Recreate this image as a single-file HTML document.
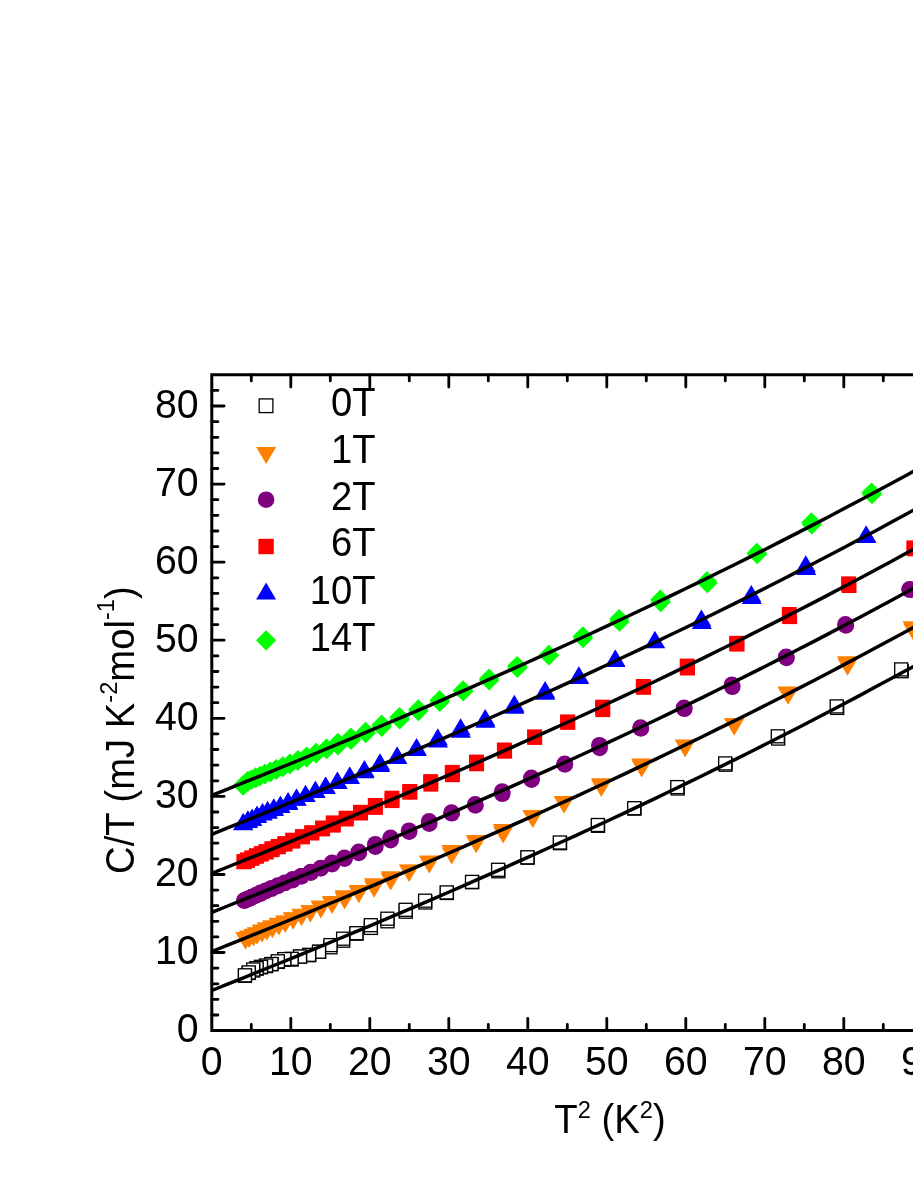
<!DOCTYPE html>
<html><head><meta charset="utf-8"><title>C/T vs T^2</title>
<style>html,body{margin:0;padding:0;background:#fff}svg{display:block;will-change:transform}text{font-family:"Liberation Sans",sans-serif;fill:#000}</style></head><body>
<svg width="913" height="1182" viewBox="0 0 913 1182">
<rect width="913" height="1182" fill="#fff"/>
<g id="s0T">
<rect x="895.2" y="664.7" width="13.0" height="13.0" fill="#fff" stroke="#000" stroke-width="1.3"/>
<rect x="894.7" y="662.9" width="13.0" height="13.0" fill="#fff" stroke="#000" stroke-width="1.3"/>
<rect x="830.7" y="701.4" width="13.0" height="13.0" fill="#fff" stroke="#000" stroke-width="1.3"/>
<rect x="830.2" y="699.9" width="13.0" height="13.0" fill="#fff" stroke="#000" stroke-width="1.3"/>
<rect x="771.7" y="732.1" width="13.0" height="13.0" fill="#fff" stroke="#000" stroke-width="1.3"/>
<rect x="771.3" y="729.8" width="13.0" height="13.0" fill="#fff" stroke="#000" stroke-width="1.3"/>
<rect x="719.1" y="758.2" width="13.0" height="13.0" fill="#fff" stroke="#000" stroke-width="1.3"/>
<rect x="718.7" y="756.9" width="13.0" height="13.0" fill="#fff" stroke="#000" stroke-width="1.3"/>
<rect x="671.2" y="782.0" width="13.0" height="13.0" fill="#fff" stroke="#000" stroke-width="1.3"/>
<rect x="670.8" y="780.6" width="13.0" height="13.0" fill="#fff" stroke="#000" stroke-width="1.3"/>
<rect x="628.0" y="802.1" width="13.0" height="13.0" fill="#fff" stroke="#000" stroke-width="1.3"/>
<rect x="627.7" y="801.7" width="13.0" height="13.0" fill="#fff" stroke="#000" stroke-width="1.3"/>
<rect x="591.6" y="819.3" width="13.0" height="13.0" fill="#fff" stroke="#000" stroke-width="1.3"/>
<rect x="591.3" y="818.5" width="13.0" height="13.0" fill="#fff" stroke="#000" stroke-width="1.3"/>
<rect x="553.6" y="836.7" width="13.0" height="13.0" fill="#fff" stroke="#000" stroke-width="1.3"/>
<rect x="553.3" y="836.0" width="13.0" height="13.0" fill="#fff" stroke="#000" stroke-width="1.3"/>
<rect x="521.2" y="851.2" width="13.0" height="13.0" fill="#fff" stroke="#000" stroke-width="1.3"/>
<rect x="520.9" y="850.8" width="13.0" height="13.0" fill="#fff" stroke="#000" stroke-width="1.3"/>
<rect x="491.9" y="864.8" width="13.0" height="13.0" fill="#fff" stroke="#000" stroke-width="1.3"/>
<rect x="491.6" y="863.3" width="13.0" height="13.0" fill="#fff" stroke="#000" stroke-width="1.3"/>
<rect x="465.7" y="875.7" width="13.0" height="13.0" fill="#fff" stroke="#000" stroke-width="1.3"/>
<rect x="465.5" y="875.4" width="13.0" height="13.0" fill="#fff" stroke="#000" stroke-width="1.3"/>
<rect x="440.4" y="886.5" width="13.0" height="13.0" fill="#fff" stroke="#000" stroke-width="1.3"/>
<rect x="440.2" y="885.9" width="13.0" height="13.0" fill="#fff" stroke="#000" stroke-width="1.3"/>
<rect x="418.8" y="896.0" width="13.0" height="13.0" fill="#fff" stroke="#000" stroke-width="1.3"/>
<rect x="418.6" y="894.2" width="13.0" height="13.0" fill="#fff" stroke="#000" stroke-width="1.3"/>
<rect x="399.3" y="905.2" width="13.0" height="13.0" fill="#fff" stroke="#000" stroke-width="1.3"/>
<rect x="399.1" y="903.3" width="13.0" height="13.0" fill="#fff" stroke="#000" stroke-width="1.3"/>
<rect x="381.0" y="914.8" width="13.0" height="13.0" fill="#fff" stroke="#000" stroke-width="1.3"/>
<rect x="380.9" y="912.2" width="13.0" height="13.0" fill="#fff" stroke="#000" stroke-width="1.3"/>
<rect x="364.4" y="921.4" width="13.0" height="13.0" fill="#fff" stroke="#000" stroke-width="1.3"/>
<rect x="364.3" y="918.7" width="13.0" height="13.0" fill="#fff" stroke="#000" stroke-width="1.3"/>
<rect x="350.0" y="927.2" width="13.0" height="13.0" fill="#fff" stroke="#000" stroke-width="1.3"/>
<rect x="349.9" y="926.7" width="13.0" height="13.0" fill="#fff" stroke="#000" stroke-width="1.3"/>
<rect x="336.7" y="934.2" width="13.0" height="13.0" fill="#fff" stroke="#000" stroke-width="1.3"/>
<rect x="336.6" y="932.2" width="13.0" height="13.0" fill="#fff" stroke="#000" stroke-width="1.3"/>
<rect x="324.0" y="940.8" width="13.0" height="13.0" fill="#fff" stroke="#000" stroke-width="1.3"/>
<rect x="324.0" y="938.6" width="13.0" height="13.0" fill="#fff" stroke="#000" stroke-width="1.3"/>
<rect x="312.6" y="945.3" width="13.0" height="13.0" fill="#fff" stroke="#000" stroke-width="1.3"/>
<rect x="312.5" y="945.2" width="13.0" height="13.0" fill="#fff" stroke="#000" stroke-width="1.3"/>
<rect x="302.7" y="948.7" width="13.0" height="13.0" fill="#fff" stroke="#000" stroke-width="1.3"/>
<rect x="302.6" y="948.3" width="13.0" height="13.0" fill="#fff" stroke="#000" stroke-width="1.3"/>
<rect x="293.6" y="950.1" width="13.0" height="13.0" fill="#fff" stroke="#000" stroke-width="1.3"/>
<rect x="293.5" y="950.0" width="13.0" height="13.0" fill="#fff" stroke="#000" stroke-width="1.3"/>
<rect x="285.2" y="953.1" width="13.0" height="13.0" fill="#fff" stroke="#000" stroke-width="1.3"/>
<rect x="285.1" y="952.3" width="13.0" height="13.0" fill="#fff" stroke="#000" stroke-width="1.3"/>
<rect x="277.8" y="953.2" width="13.0" height="13.0" fill="#fff" stroke="#000" stroke-width="1.3"/>
<rect x="277.8" y="952.6" width="13.0" height="13.0" fill="#fff" stroke="#000" stroke-width="1.3"/>
<rect x="271.4" y="955.4" width="13.0" height="13.0" fill="#fff" stroke="#000" stroke-width="1.3"/>
<rect x="271.3" y="954.8" width="13.0" height="13.0" fill="#fff" stroke="#000" stroke-width="1.3"/>
<rect x="265.0" y="957.7" width="13.0" height="13.0" fill="#fff" stroke="#000" stroke-width="1.3"/>
<rect x="264.9" y="957.5" width="13.0" height="13.0" fill="#fff" stroke="#000" stroke-width="1.3"/>
<rect x="259.5" y="959.6" width="13.0" height="13.0" fill="#fff" stroke="#000" stroke-width="1.3"/>
<rect x="259.5" y="959.0" width="13.0" height="13.0" fill="#fff" stroke="#000" stroke-width="1.3"/>
<rect x="254.5" y="960.8" width="13.0" height="13.0" fill="#fff" stroke="#000" stroke-width="1.3"/>
<rect x="254.5" y="960.3" width="13.0" height="13.0" fill="#fff" stroke="#000" stroke-width="1.3"/>
<rect x="250.1" y="962.2" width="13.0" height="13.0" fill="#fff" stroke="#000" stroke-width="1.3"/>
<rect x="250.1" y="961.7" width="13.0" height="13.0" fill="#fff" stroke="#000" stroke-width="1.3"/>
<rect x="246.7" y="964.0" width="13.0" height="13.0" fill="#fff" stroke="#000" stroke-width="1.3"/>
<rect x="246.7" y="963.0" width="13.0" height="13.0" fill="#fff" stroke="#000" stroke-width="1.3"/>
<rect x="242.3" y="966.5" width="13.0" height="13.0" fill="#fff" stroke="#000" stroke-width="1.3"/>
<rect x="242.2" y="965.9" width="13.0" height="13.0" fill="#fff" stroke="#000" stroke-width="1.3"/>
<rect x="238.5" y="969.3" width="13.0" height="13.0" fill="#fff" stroke="#000" stroke-width="1.3"/>
<rect x="238.4" y="968.8" width="13.0" height="13.0" fill="#fff" stroke="#000" stroke-width="1.3"/>
</g>
<g id="s1T">
<path d="M235.5 932.0L255.5 932.0L245.5 949.0Z" fill="#FF8000"/>
<path d="M235.5 932.6L255.5 932.6L245.5 949.6Z" fill="#FF8000"/>
<path d="M239.2 930.4L259.2 930.4L249.2 947.4Z" fill="#FF8000"/>
<path d="M239.2 931.1L259.2 931.1L249.2 948.1Z" fill="#FF8000"/>
<path d="M243.6 928.7L263.6 928.7L253.6 945.7Z" fill="#FF8000"/>
<path d="M243.6 929.2L263.6 929.2L253.6 946.2Z" fill="#FF8000"/>
<path d="M247.0 927.3L267.0 927.3L257.0 944.3Z" fill="#FF8000"/>
<path d="M247.1 927.6L267.1 927.6L257.1 944.6Z" fill="#FF8000"/>
<path d="M252.0 924.6L272.0 924.6L262.0 941.6Z" fill="#FF8000"/>
<path d="M252.1 925.7L272.1 925.7L262.1 942.7Z" fill="#FF8000"/>
<path d="M256.9 922.3L276.9 922.3L266.9 939.3Z" fill="#FF8000"/>
<path d="M257.0 923.4L277.0 923.4L267.0 940.4Z" fill="#FF8000"/>
<path d="M262.3 920.3L282.3 920.3L272.3 937.3Z" fill="#FF8000"/>
<path d="M262.4 921.2L282.4 921.2L272.4 938.2Z" fill="#FF8000"/>
<path d="M268.7 917.8L288.7 917.8L278.7 934.8Z" fill="#FF8000"/>
<path d="M268.8 918.6L288.8 918.6L278.8 935.6Z" fill="#FF8000"/>
<path d="M275.2 915.4L295.2 915.4L285.2 932.4Z" fill="#FF8000"/>
<path d="M275.3 915.7L295.3 915.7L285.3 932.7Z" fill="#FF8000"/>
<path d="M283.0 912.3L303.0 912.3L293.0 929.3Z" fill="#FF8000"/>
<path d="M283.1 912.5L303.1 912.5L293.1 929.5Z" fill="#FF8000"/>
<path d="M291.4 908.8L311.4 908.8L301.4 925.8Z" fill="#FF8000"/>
<path d="M291.5 909.1L311.5 909.1L301.5 926.1Z" fill="#FF8000"/>
<path d="M300.3 905.3L320.3 905.3L310.3 922.3Z" fill="#FF8000"/>
<path d="M300.4 905.3L320.4 905.3L310.4 922.3Z" fill="#FF8000"/>
<path d="M310.8 900.6L330.8 900.6L320.8 917.6Z" fill="#FF8000"/>
<path d="M310.9 901.5L330.9 901.5L320.9 918.5Z" fill="#FF8000"/>
<path d="M322.0 895.9L342.0 895.9L332.0 912.9Z" fill="#FF8000"/>
<path d="M322.1 897.1L342.1 897.1L332.1 914.1Z" fill="#FF8000"/>
<path d="M334.5 890.3L354.5 890.3L344.5 907.3Z" fill="#FF8000"/>
<path d="M334.6 892.6L354.6 892.6L344.6 909.6Z" fill="#FF8000"/>
<path d="M348.7 885.1L368.7 885.1L358.7 902.1Z" fill="#FF8000"/>
<path d="M348.8 886.3L368.8 886.3L358.8 903.3Z" fill="#FF8000"/>
<path d="M364.0 878.2L384.0 878.2L374.0 895.2Z" fill="#FF8000"/>
<path d="M364.1 880.7L384.1 880.7L374.1 897.7Z" fill="#FF8000"/>
<path d="M380.6 871.3L400.6 871.3L390.6 888.3Z" fill="#FF8000"/>
<path d="M380.7 873.6L400.7 873.6L390.7 890.6Z" fill="#FF8000"/>
<path d="M399.0 864.4L419.0 864.4L409.0 881.4Z" fill="#FF8000"/>
<path d="M399.2 864.8L419.2 864.8L409.2 881.8Z" fill="#FF8000"/>
<path d="M419.1 855.6L439.1 855.6L429.1 872.6Z" fill="#FF8000"/>
<path d="M419.3 856.4L439.3 856.4L429.3 873.4Z" fill="#FF8000"/>
<path d="M441.5 845.1L461.5 845.1L451.5 862.1Z" fill="#FF8000"/>
<path d="M441.7 847.5L461.7 847.5L451.7 864.5Z" fill="#FF8000"/>
<path d="M466.0 834.9L486.0 834.9L476.0 851.9Z" fill="#FF8000"/>
<path d="M466.2 836.3L486.2 836.3L476.2 853.3Z" fill="#FF8000"/>
<path d="M492.9 824.0L512.9 824.0L502.9 841.0Z" fill="#FF8000"/>
<path d="M493.1 826.6L513.1 826.6L503.1 843.6Z" fill="#FF8000"/>
<path d="M522.6 809.9L542.6 809.9L532.6 826.9Z" fill="#FF8000"/>
<path d="M522.8 811.1L542.8 811.1L532.8 828.1Z" fill="#FF8000"/>
<path d="M553.8 796.1L573.8 796.1L563.8 813.1Z" fill="#FF8000"/>
<path d="M554.1 796.6L574.1 796.6L564.1 813.6Z" fill="#FF8000"/>
<path d="M591.0 778.3L611.0 778.3L601.0 795.3Z" fill="#FF8000"/>
<path d="M591.3 780.1L611.3 780.1L601.3 797.1Z" fill="#FF8000"/>
<path d="M631.3 758.5L651.3 758.5L641.3 775.5Z" fill="#FF8000"/>
<path d="M631.7 760.6L651.7 760.6L641.7 777.6Z" fill="#FF8000"/>
<path d="M674.8 739.4L694.8 739.4L684.8 756.4Z" fill="#FF8000"/>
<path d="M675.2 740.3L695.2 740.3L685.2 757.3Z" fill="#FF8000"/>
<path d="M723.9 718.0L743.9 718.0L733.9 735.0Z" fill="#FF8000"/>
<path d="M724.3 718.5L744.3 718.5L734.3 735.5Z" fill="#FF8000"/>
<path d="M777.6 686.6L797.6 686.6L787.6 703.6Z" fill="#FF8000"/>
<path d="M778.1 687.7L798.1 687.7L788.1 704.7Z" fill="#FF8000"/>
<path d="M837.0 656.2L857.0 656.2L847.0 673.2Z" fill="#FF8000"/>
<path d="M837.5 658.8L857.5 658.8L847.5 675.8Z" fill="#FF8000"/>
<path d="M902.6 621.3L922.6 621.3L912.6 638.3Z" fill="#FF8000"/>
<path d="M903.2 623.4L923.2 623.4L913.2 640.4Z" fill="#FF8000"/>
</g>
<g id="s2T">
<circle cx="244.3" cy="900.5" r="8.3" fill="#800080"/>
<circle cx="244.4" cy="900.6" r="8.3" fill="#800080"/>
<circle cx="247.8" cy="898.9" r="8.3" fill="#800080"/>
<circle cx="247.8" cy="899.1" r="8.3" fill="#800080"/>
<circle cx="251.7" cy="897.1" r="8.3" fill="#800080"/>
<circle cx="251.7" cy="897.3" r="8.3" fill="#800080"/>
<circle cx="255.9" cy="895.2" r="8.3" fill="#800080"/>
<circle cx="255.9" cy="895.3" r="8.3" fill="#800080"/>
<circle cx="260.5" cy="892.7" r="8.3" fill="#800080"/>
<circle cx="260.6" cy="893.6" r="8.3" fill="#800080"/>
<circle cx="265.7" cy="890.8" r="8.3" fill="#800080"/>
<circle cx="265.8" cy="891.0" r="8.3" fill="#800080"/>
<circle cx="271.4" cy="888.2" r="8.3" fill="#800080"/>
<circle cx="271.5" cy="888.8" r="8.3" fill="#800080"/>
<circle cx="277.8" cy="885.5" r="8.3" fill="#800080"/>
<circle cx="277.9" cy="886.0" r="8.3" fill="#800080"/>
<circle cx="284.8" cy="882.8" r="8.3" fill="#800080"/>
<circle cx="284.9" cy="883.0" r="8.3" fill="#800080"/>
<circle cx="292.6" cy="879.4" r="8.3" fill="#800080"/>
<circle cx="292.6" cy="880.2" r="8.3" fill="#800080"/>
<circle cx="301.2" cy="876.2" r="8.3" fill="#800080"/>
<circle cx="301.3" cy="876.3" r="8.3" fill="#800080"/>
<circle cx="310.7" cy="872.0" r="8.3" fill="#800080"/>
<circle cx="310.8" cy="872.7" r="8.3" fill="#800080"/>
<circle cx="320.8" cy="868.1" r="8.3" fill="#800080"/>
<circle cx="320.9" cy="868.2" r="8.3" fill="#800080"/>
<circle cx="332.0" cy="862.9" r="8.3" fill="#800080"/>
<circle cx="332.1" cy="864.2" r="8.3" fill="#800080"/>
<circle cx="344.5" cy="857.9" r="8.3" fill="#800080"/>
<circle cx="344.6" cy="858.7" r="8.3" fill="#800080"/>
<circle cx="358.7" cy="851.9" r="8.3" fill="#800080"/>
<circle cx="358.8" cy="852.9" r="8.3" fill="#800080"/>
<circle cx="375.3" cy="844.2" r="8.3" fill="#800080"/>
<circle cx="375.4" cy="846.7" r="8.3" fill="#800080"/>
<circle cx="390.6" cy="837.9" r="8.3" fill="#800080"/>
<circle cx="390.7" cy="840.1" r="8.3" fill="#800080"/>
<circle cx="409.0" cy="830.7" r="8.3" fill="#800080"/>
<circle cx="409.2" cy="831.7" r="8.3" fill="#800080"/>
<circle cx="429.1" cy="821.4" r="8.3" fill="#800080"/>
<circle cx="429.3" cy="823.7" r="8.3" fill="#800080"/>
<circle cx="451.5" cy="812.5" r="8.3" fill="#800080"/>
<circle cx="451.7" cy="813.3" r="8.3" fill="#800080"/>
<circle cx="475.2" cy="804.3" r="8.3" fill="#800080"/>
<circle cx="475.4" cy="805.5" r="8.3" fill="#800080"/>
<circle cx="502.1" cy="791.5" r="8.3" fill="#800080"/>
<circle cx="502.3" cy="793.8" r="8.3" fill="#800080"/>
<circle cx="531.4" cy="777.9" r="8.3" fill="#800080"/>
<circle cx="531.6" cy="779.7" r="8.3" fill="#800080"/>
<circle cx="564.6" cy="763.8" r="8.3" fill="#800080"/>
<circle cx="564.9" cy="764.4" r="8.3" fill="#800080"/>
<circle cx="599.4" cy="745.2" r="8.3" fill="#800080"/>
<circle cx="599.7" cy="747.9" r="8.3" fill="#800080"/>
<circle cx="640.5" cy="727.6" r="8.3" fill="#800080"/>
<circle cx="640.9" cy="728.4" r="8.3" fill="#800080"/>
<circle cx="684.0" cy="707.9" r="8.3" fill="#800080"/>
<circle cx="684.4" cy="708.8" r="8.3" fill="#800080"/>
<circle cx="731.9" cy="684.7" r="8.3" fill="#800080"/>
<circle cx="732.3" cy="686.8" r="8.3" fill="#800080"/>
<circle cx="786.1" cy="656.8" r="8.3" fill="#800080"/>
<circle cx="786.5" cy="657.9" r="8.3" fill="#800080"/>
<circle cx="845.4" cy="624.4" r="8.3" fill="#800080"/>
<circle cx="845.9" cy="625.4" r="8.3" fill="#800080"/>
<circle cx="909.5" cy="589.3" r="8.3" fill="#800080"/>
<circle cx="910.0" cy="589.8" r="8.3" fill="#800080"/>
</g>
<g id="s6T">
<rect x="236.6" y="854.2" width="14.9" height="14.9" fill="#FF0000"/>
<rect x="236.6" y="854.3" width="14.9" height="14.9" fill="#FF0000"/>
<rect x="239.9" y="852.4" width="14.9" height="14.9" fill="#FF0000"/>
<rect x="240.0" y="853.0" width="14.9" height="14.9" fill="#FF0000"/>
<rect x="244.4" y="850.5" width="14.9" height="14.9" fill="#FF0000"/>
<rect x="244.4" y="850.8" width="14.9" height="14.9" fill="#FF0000"/>
<rect x="248.9" y="848.2" width="14.9" height="14.9" fill="#FF0000"/>
<rect x="248.9" y="848.9" width="14.9" height="14.9" fill="#FF0000"/>
<rect x="253.8" y="846.2" width="14.9" height="14.9" fill="#FF0000"/>
<rect x="253.8" y="846.6" width="14.9" height="14.9" fill="#FF0000"/>
<rect x="258.6" y="844.1" width="14.9" height="14.9" fill="#FF0000"/>
<rect x="258.7" y="844.6" width="14.9" height="14.9" fill="#FF0000"/>
<rect x="264.5" y="841.2" width="14.9" height="14.9" fill="#FF0000"/>
<rect x="264.6" y="842.3" width="14.9" height="14.9" fill="#FF0000"/>
<rect x="270.7" y="838.9" width="14.9" height="14.9" fill="#FF0000"/>
<rect x="270.8" y="839.4" width="14.9" height="14.9" fill="#FF0000"/>
<rect x="277.4" y="836.1" width="14.9" height="14.9" fill="#FF0000"/>
<rect x="277.5" y="836.7" width="14.9" height="14.9" fill="#FF0000"/>
<rect x="285.3" y="832.7" width="14.9" height="14.9" fill="#FF0000"/>
<rect x="285.4" y="833.7" width="14.9" height="14.9" fill="#FF0000"/>
<rect x="294.9" y="829.2" width="14.9" height="14.9" fill="#FF0000"/>
<rect x="295.0" y="829.4" width="14.9" height="14.9" fill="#FF0000"/>
<rect x="304.3" y="825.3" width="14.9" height="14.9" fill="#FF0000"/>
<rect x="304.4" y="825.5" width="14.9" height="14.9" fill="#FF0000"/>
<rect x="315.1" y="820.5" width="14.9" height="14.9" fill="#FF0000"/>
<rect x="315.2" y="821.5" width="14.9" height="14.9" fill="#FF0000"/>
<rect x="325.8" y="815.4" width="14.9" height="14.9" fill="#FF0000"/>
<rect x="325.9" y="817.7" width="14.9" height="14.9" fill="#FF0000"/>
<rect x="338.7" y="810.7" width="14.9" height="14.9" fill="#FF0000"/>
<rect x="338.8" y="811.6" width="14.9" height="14.9" fill="#FF0000"/>
<rect x="353.0" y="804.8" width="14.9" height="14.9" fill="#FF0000"/>
<rect x="353.1" y="805.6" width="14.9" height="14.9" fill="#FF0000"/>
<rect x="367.8" y="798.0" width="14.9" height="14.9" fill="#FF0000"/>
<rect x="368.0" y="800.0" width="14.9" height="14.9" fill="#FF0000"/>
<rect x="384.5" y="790.7" width="14.9" height="14.9" fill="#FF0000"/>
<rect x="384.6" y="793.2" width="14.9" height="14.9" fill="#FF0000"/>
<rect x="402.3" y="784.0" width="14.9" height="14.9" fill="#FF0000"/>
<rect x="402.4" y="784.8" width="14.9" height="14.9" fill="#FF0000"/>
<rect x="423.2" y="774.1" width="14.9" height="14.9" fill="#FF0000"/>
<rect x="423.4" y="776.7" width="14.9" height="14.9" fill="#FF0000"/>
<rect x="444.8" y="764.9" width="14.9" height="14.9" fill="#FF0000"/>
<rect x="445.0" y="767.3" width="14.9" height="14.9" fill="#FF0000"/>
<rect x="469.0" y="754.6" width="14.9" height="14.9" fill="#FF0000"/>
<rect x="469.2" y="756.4" width="14.9" height="14.9" fill="#FF0000"/>
<rect x="496.9" y="742.5" width="14.9" height="14.9" fill="#FF0000"/>
<rect x="497.2" y="743.8" width="14.9" height="14.9" fill="#FF0000"/>
<rect x="527.1" y="729.4" width="14.9" height="14.9" fill="#FF0000"/>
<rect x="527.3" y="730.0" width="14.9" height="14.9" fill="#FF0000"/>
<rect x="560.1" y="714.5" width="14.9" height="14.9" fill="#FF0000"/>
<rect x="560.4" y="714.9" width="14.9" height="14.9" fill="#FF0000"/>
<rect x="595.1" y="699.7" width="14.9" height="14.9" fill="#FF0000"/>
<rect x="595.4" y="702.2" width="14.9" height="14.9" fill="#FF0000"/>
<rect x="635.8" y="679.0" width="14.9" height="14.9" fill="#FF0000"/>
<rect x="636.2" y="679.9" width="14.9" height="14.9" fill="#FF0000"/>
<rect x="679.7" y="658.6" width="14.9" height="14.9" fill="#FF0000"/>
<rect x="680.1" y="660.6" width="14.9" height="14.9" fill="#FF0000"/>
<rect x="729.2" y="635.8" width="14.9" height="14.9" fill="#FF0000"/>
<rect x="729.6" y="636.7" width="14.9" height="14.9" fill="#FF0000"/>
<rect x="781.8" y="607.0" width="14.9" height="14.9" fill="#FF0000"/>
<rect x="782.2" y="609.2" width="14.9" height="14.9" fill="#FF0000"/>
<rect x="841.1" y="576.4" width="14.9" height="14.9" fill="#FF0000"/>
<rect x="841.6" y="578.1" width="14.9" height="14.9" fill="#FF0000"/>
<rect x="906.4" y="540.4" width="14.9" height="14.9" fill="#FF0000"/>
<rect x="906.9" y="541.4" width="14.9" height="14.9" fill="#FF0000"/>
</g>
<g id="s10T">
<path d="M233.2 830.1L253.2 830.1L243.2 813.1Z" fill="#0000FF"/>
<path d="M233.2 830.3L253.2 830.3L243.2 813.3Z" fill="#0000FF"/>
<path d="M237.9 827.3L257.9 827.3L247.9 810.3Z" fill="#0000FF"/>
<path d="M237.9 828.1L257.9 828.1L247.9 811.1Z" fill="#0000FF"/>
<path d="M242.1 825.7L262.1 825.7L252.1 808.7Z" fill="#0000FF"/>
<path d="M242.2 825.8L262.2 825.8L252.2 808.8Z" fill="#0000FF"/>
<path d="M247.0 822.7L267.0 822.7L257.0 805.7Z" fill="#0000FF"/>
<path d="M247.1 823.0L267.1 823.0L257.1 806.0Z" fill="#0000FF"/>
<path d="M252.5 820.0L272.5 820.0L262.5 803.0Z" fill="#0000FF"/>
<path d="M252.5 820.6L272.5 820.6L262.5 803.6Z" fill="#0000FF"/>
<path d="M257.6 817.8L277.6 817.8L267.6 800.8Z" fill="#0000FF"/>
<path d="M257.6 818.7L277.6 818.7L267.6 801.7Z" fill="#0000FF"/>
<path d="M263.8 815.3L283.8 815.3L273.8 798.3Z" fill="#0000FF"/>
<path d="M263.9 816.0L283.9 816.0L273.9 799.0Z" fill="#0000FF"/>
<path d="M270.4 812.8L290.4 812.8L280.4 795.8Z" fill="#0000FF"/>
<path d="M270.4 813.1L290.4 813.1L280.4 796.1Z" fill="#0000FF"/>
<path d="M278.1 809.0L298.1 809.0L288.1 792.0Z" fill="#0000FF"/>
<path d="M278.2 810.0L298.2 810.0L288.2 793.0Z" fill="#0000FF"/>
<path d="M286.5 805.6L306.5 805.6L296.5 788.6Z" fill="#0000FF"/>
<path d="M286.6 805.8L306.6 805.8L296.6 788.8Z" fill="#0000FF"/>
<path d="M295.5 802.0L315.5 802.0L305.5 785.0Z" fill="#0000FF"/>
<path d="M295.6 802.0L315.6 802.0L305.6 785.0Z" fill="#0000FF"/>
<path d="M305.4 797.8L325.4 797.8L315.4 780.8Z" fill="#0000FF"/>
<path d="M305.5 798.1L325.5 798.1L315.5 781.1Z" fill="#0000FF"/>
<path d="M315.6 793.5L335.6 793.5L325.6 776.5Z" fill="#0000FF"/>
<path d="M315.7 794.0L335.7 794.0L325.7 777.0Z" fill="#0000FF"/>
<path d="M327.4 788.6L347.4 788.6L337.4 771.6Z" fill="#0000FF"/>
<path d="M327.5 789.1L347.5 789.1L337.5 772.1Z" fill="#0000FF"/>
<path d="M339.7 783.4L359.7 783.4L349.7 766.4Z" fill="#0000FF"/>
<path d="M339.8 784.1L359.8 784.1L349.8 767.1Z" fill="#0000FF"/>
<path d="M354.4 777.0L374.4 777.0L364.4 760.0Z" fill="#0000FF"/>
<path d="M354.5 778.2L374.5 778.2L364.5 761.2Z" fill="#0000FF"/>
<path d="M370.0 770.2L390.0 770.2L380.0 753.2Z" fill="#0000FF"/>
<path d="M370.1 771.9L390.1 771.9L380.1 754.9Z" fill="#0000FF"/>
<path d="M387.1 763.5L407.1 763.5L397.1 746.5Z" fill="#0000FF"/>
<path d="M387.3 764.1L407.3 764.1L397.3 747.1Z" fill="#0000FF"/>
<path d="M406.5 754.9L426.5 754.9L416.5 737.9Z" fill="#0000FF"/>
<path d="M406.7 756.1L426.7 756.1L416.7 739.1Z" fill="#0000FF"/>
<path d="M427.8 745.2L447.8 745.2L437.8 728.2Z" fill="#0000FF"/>
<path d="M428.0 747.6L448.0 747.6L438.0 730.6Z" fill="#0000FF"/>
<path d="M450.6 735.2L470.6 735.2L460.6 718.2Z" fill="#0000FF"/>
<path d="M450.8 737.8L470.8 737.8L460.8 720.8Z" fill="#0000FF"/>
<path d="M475.2 725.9L495.2 725.9L485.2 708.9Z" fill="#0000FF"/>
<path d="M475.4 727.8L495.4 727.8L485.4 710.8Z" fill="#0000FF"/>
<path d="M504.3 711.8L524.3 711.8L514.3 694.8Z" fill="#0000FF"/>
<path d="M504.5 713.8L524.5 713.8L514.5 696.8Z" fill="#0000FF"/>
<path d="M535.1 698.1L555.1 698.1L545.1 681.1Z" fill="#0000FF"/>
<path d="M535.4 699.8L555.4 699.8L545.4 682.8Z" fill="#0000FF"/>
<path d="M568.8 683.3L588.8 683.3L578.8 666.3Z" fill="#0000FF"/>
<path d="M569.1 683.9L589.1 683.9L579.1 666.9Z" fill="#0000FF"/>
<path d="M605.2 666.5L625.2 666.5L615.2 649.5Z" fill="#0000FF"/>
<path d="M605.5 666.9L625.5 666.9L615.5 649.9Z" fill="#0000FF"/>
<path d="M644.8 647.9L664.8 647.9L654.8 630.9Z" fill="#0000FF"/>
<path d="M645.1 648.2L665.1 648.2L655.1 631.2Z" fill="#0000FF"/>
<path d="M691.4 626.6L711.4 626.6L701.4 609.6Z" fill="#0000FF"/>
<path d="M691.8 629.1L711.8 629.1L701.8 612.1Z" fill="#0000FF"/>
<path d="M741.3 602.0L761.3 602.0L751.3 585.0Z" fill="#0000FF"/>
<path d="M741.7 604.0L761.7 604.0L751.7 587.0Z" fill="#0000FF"/>
<path d="M795.8 572.3L815.8 572.3L805.8 555.3Z" fill="#0000FF"/>
<path d="M796.3 574.9L816.3 574.9L806.3 557.9Z" fill="#0000FF"/>
<path d="M856.0 542.5L876.0 542.5L866.0 525.5Z" fill="#0000FF"/>
<path d="M856.5 542.9L876.5 542.9L866.5 525.9Z" fill="#0000FF"/>
<path d="M921.6 504.9L941.6 504.9L931.6 487.9Z" fill="#0000FF"/>
<path d="M922.2 506.7L942.2 506.7L932.2 489.7Z" fill="#0000FF"/>
</g>
<g id="s14T">
<path d="M233.1 785.1L243.2 775.0L253.3 785.1L243.2 795.2Z" fill="#00FF00"/>
<path d="M233.1 785.6L243.2 775.5L253.3 785.6L243.2 795.7Z" fill="#00FF00"/>
<path d="M237.8 780.9L247.9 770.8L258.0 780.9L247.9 791.0Z" fill="#00FF00"/>
<path d="M237.8 781.7L247.9 771.6L258.0 781.7L247.9 791.8Z" fill="#00FF00"/>
<path d="M241.4 779.5L251.5 769.4L261.6 779.5L251.5 789.6Z" fill="#00FF00"/>
<path d="M241.4 779.9L251.5 769.8L261.6 779.9L251.5 790.0Z" fill="#00FF00"/>
<path d="M245.4 777.4L255.5 767.3L265.6 777.4L255.5 787.5Z" fill="#00FF00"/>
<path d="M245.5 778.5L255.6 768.4L265.7 778.5L255.6 788.6Z" fill="#00FF00"/>
<path d="M249.9 776.0L260.0 765.9L270.1 776.0L260.0 786.1Z" fill="#00FF00"/>
<path d="M249.9 776.1L260.0 766.0L270.1 776.1L260.0 786.2Z" fill="#00FF00"/>
<path d="M254.8 773.8L264.9 763.7L275.0 773.8L264.9 783.9Z" fill="#00FF00"/>
<path d="M254.8 774.4L264.9 764.3L275.0 774.4L264.9 784.5Z" fill="#00FF00"/>
<path d="M260.2 771.5L270.3 761.4L280.4 771.5L270.3 781.6Z" fill="#00FF00"/>
<path d="M260.2 772.3L270.3 762.2L280.4 772.3L270.3 782.4Z" fill="#00FF00"/>
<path d="M266.1 769.0L276.2 758.9L286.3 769.0L276.2 779.1Z" fill="#00FF00"/>
<path d="M266.1 770.0L276.2 759.9L286.3 770.0L276.2 780.1Z" fill="#00FF00"/>
<path d="M272.7 766.4L282.8 756.3L292.9 766.4L282.8 776.5Z" fill="#00FF00"/>
<path d="M272.7 767.2L282.8 757.1L292.9 767.2L282.8 777.3Z" fill="#00FF00"/>
<path d="M279.9 763.5L290.0 753.4L300.1 763.5L290.0 773.6Z" fill="#00FF00"/>
<path d="M279.9 764.2L290.0 754.1L300.1 764.2L290.0 774.3Z" fill="#00FF00"/>
<path d="M287.8 760.2L297.9 750.1L308.0 760.2L297.9 770.3Z" fill="#00FF00"/>
<path d="M287.8 761.0L297.9 750.9L308.0 761.0L297.9 771.1Z" fill="#00FF00"/>
<path d="M296.5 756.5L306.6 746.4L316.7 756.5L306.6 766.6Z" fill="#00FF00"/>
<path d="M296.5 757.5L306.6 747.4L316.7 757.5L306.6 767.6Z" fill="#00FF00"/>
<path d="M306.0 752.9L316.1 742.8L326.2 752.9L316.1 763.0Z" fill="#00FF00"/>
<path d="M306.1 753.3L316.2 743.2L326.3 753.3L316.2 763.4Z" fill="#00FF00"/>
<path d="M316.4 748.5L326.5 738.4L336.6 748.5L326.5 758.6Z" fill="#00FF00"/>
<path d="M316.5 749.2L326.6 739.1L336.7 749.2L326.6 759.3Z" fill="#00FF00"/>
<path d="M327.8 742.9L337.9 732.8L348.0 742.9L337.9 753.0Z" fill="#00FF00"/>
<path d="M327.9 745.3L338.0 735.2L348.1 745.3L338.0 755.4Z" fill="#00FF00"/>
<path d="M340.8 737.5L350.9 727.4L361.0 737.5L350.9 747.6Z" fill="#00FF00"/>
<path d="M340.9 739.9L351.0 729.8L361.1 739.9L351.0 750.0Z" fill="#00FF00"/>
<path d="M355.5 731.9L365.6 721.8L375.7 731.9L365.6 742.0Z" fill="#00FF00"/>
<path d="M355.6 733.2L365.7 723.1L375.8 733.2L365.7 743.3Z" fill="#00FF00"/>
<path d="M371.6 724.7L381.7 714.6L391.8 724.7L381.7 734.8Z" fill="#00FF00"/>
<path d="M371.7 726.8L381.8 716.7L391.9 726.8L381.8 736.9Z" fill="#00FF00"/>
<path d="M389.4 717.1L399.5 707.0L409.6 717.1L399.5 727.2Z" fill="#00FF00"/>
<path d="M389.6 719.4L399.7 709.3L409.8 719.4L399.7 729.5Z" fill="#00FF00"/>
<path d="M408.2 709.4L418.3 699.3L428.4 709.4L418.3 719.5Z" fill="#00FF00"/>
<path d="M408.3 711.1L418.4 701.0L428.5 711.1L418.4 721.2Z" fill="#00FF00"/>
<path d="M429.5 700.2L439.6 690.1L449.7 700.2L439.6 710.3Z" fill="#00FF00"/>
<path d="M429.7 701.9L439.8 691.8L449.9 701.9L439.8 712.0Z" fill="#00FF00"/>
<path d="M452.9 690.3L463.0 680.2L473.1 690.3L463.0 700.4Z" fill="#00FF00"/>
<path d="M453.1 691.5L463.2 681.4L473.3 691.5L463.2 701.6Z" fill="#00FF00"/>
<path d="M478.9 678.7L489.0 668.6L499.1 678.7L489.0 688.8Z" fill="#00FF00"/>
<path d="M479.1 680.3L489.2 670.2L499.3 680.3L489.2 690.4Z" fill="#00FF00"/>
<path d="M507.0 666.1L517.1 656.0L527.2 666.1L517.1 676.2Z" fill="#00FF00"/>
<path d="M507.3 667.9L517.4 657.8L527.5 667.9L517.4 678.0Z" fill="#00FF00"/>
<path d="M538.7 654.9L548.8 644.8L558.9 654.9L548.8 665.0Z" fill="#00FF00"/>
<path d="M538.9 655.4L549.0 645.3L559.1 655.4L549.0 665.5Z" fill="#00FF00"/>
<path d="M572.7 636.3L582.8 626.2L592.9 636.3L582.8 646.4Z" fill="#00FF00"/>
<path d="M573.0 638.1L583.1 628.0L593.2 638.1L583.1 648.2Z" fill="#00FF00"/>
<path d="M609.1 619.0L619.2 608.9L629.3 619.0L619.2 629.1Z" fill="#00FF00"/>
<path d="M609.4 621.7L619.5 611.6L629.6 621.7L619.5 631.8Z" fill="#00FF00"/>
<path d="M650.2 599.7L660.3 589.6L670.4 599.7L660.3 609.8Z" fill="#00FF00"/>
<path d="M650.6 602.1L660.7 592.0L670.8 602.1L660.7 612.2Z" fill="#00FF00"/>
<path d="M696.9 581.2L707.0 571.1L717.1 581.2L707.0 591.3Z" fill="#00FF00"/>
<path d="M697.3 583.2L707.4 573.1L717.5 583.2L707.4 593.3Z" fill="#00FF00"/>
<path d="M746.7 552.9L756.8 542.8L766.9 552.9L756.8 563.0Z" fill="#00FF00"/>
<path d="M747.1 554.2L757.2 544.1L767.3 554.2L757.2 564.3Z" fill="#00FF00"/>
<path d="M801.3 522.4L811.4 512.3L821.5 522.4L811.4 532.5Z" fill="#00FF00"/>
<path d="M801.8 524.4L811.9 514.3L822.0 524.4L811.9 534.5Z" fill="#00FF00"/>
<path d="M861.4 492.5L871.5 482.4L881.6 492.5L871.5 502.6Z" fill="#00FF00"/>
<path d="M861.9 494.2L872.0 484.1L882.1 494.2L872.0 504.3Z" fill="#00FF00"/>
<path d="M927.8 457.1L937.9 447.0L948.0 457.1L937.9 467.2Z" fill="#00FF00"/>
<path d="M928.4 458.5L938.5 448.4L948.6 458.5L938.5 468.6Z" fill="#00FF00"/>
</g>
<g fill="none" stroke="#000" stroke-width="3.45">
<path d="M211.8 990.5L227.6 984.2L243.4 977.8L259.3 971.4L275.1 965.0L290.9 958.6L306.7 952.1L322.5 945.6L338.4 939.0L354.2 932.4L370.0 925.8L385.8 919.1L401.6 912.4L417.5 905.7L433.3 898.9L449.1 892.0L464.9 885.2L480.7 878.2L496.6 871.2L512.4 864.2L528.2 857.1L544.0 850.0L559.8 842.8L575.7 835.6L591.5 828.3L607.3 821.0L623.1 813.6L638.9 806.1L654.8 798.6L670.6 791.0L686.4 783.4L702.2 775.7L718.0 767.9L733.9 760.1L749.7 752.2L765.5 744.3L781.3 736.2L797.1 728.2L813.0 720.0L828.8 711.8L844.6 703.4L860.4 695.1L876.2 686.6L892.1 678.1L907.9 669.5L923.7 660.8L939.5 652.0"/>
<path d="M211.8 951.5L227.6 945.1L243.4 938.8L259.3 932.4L275.1 926.0L290.9 919.5L306.7 913.1L322.5 906.5L338.4 900.0L354.2 893.4L370.0 886.8L385.8 880.1L401.6 873.4L417.5 866.6L433.3 859.9L449.1 853.0L464.9 846.1L480.7 839.2L496.6 832.2L512.4 825.2L528.2 818.1L544.0 811.0L559.8 803.8L575.7 796.6L591.5 789.3L607.3 782.0L623.1 774.6L638.9 767.1L654.8 759.6L670.6 752.0L686.4 744.4L702.2 736.7L718.0 728.9L733.9 721.1L749.7 713.2L765.5 705.3L781.3 697.2L797.1 689.1L813.0 681.0L828.8 672.7L844.6 664.4L860.4 656.0L876.2 647.6L892.1 639.1L907.9 630.4L923.7 621.8L939.5 613.0"/>
<path d="M211.8 912.4L227.6 906.0L243.4 899.7L259.3 893.3L275.1 886.9L290.9 880.4L306.7 874.0L322.5 867.4L338.4 860.9L354.2 854.3L370.0 847.7L385.8 841.0L401.6 834.3L417.5 827.5L433.3 820.8L449.1 813.9L464.9 807.0L480.7 800.1L496.6 793.1L512.4 786.1L528.2 779.0L544.0 771.9L559.8 764.7L575.7 757.5L591.5 750.2L607.3 742.9L623.1 735.5L638.9 728.0L654.8 720.5L670.6 712.9L686.4 705.3L702.2 697.6L718.0 689.8L733.9 682.0L749.7 674.1L765.5 666.2L781.3 658.1L797.1 650.0L813.0 641.9L828.8 633.6L844.6 625.3L860.4 616.9L876.2 608.5L892.1 600.0L907.9 591.3L923.7 582.7L939.5 573.9"/>
<path d="M211.8 873.3L227.6 867.0L243.4 860.7L259.3 854.3L275.1 847.9L290.9 841.4L306.7 834.9L322.5 828.4L338.4 821.9L354.2 815.3L370.0 808.7L385.8 802.0L401.6 795.3L417.5 788.5L433.3 781.7L449.1 774.9L464.9 768.0L480.7 761.1L496.6 754.1L512.4 747.1L528.2 740.0L544.0 732.9L559.8 725.7L575.7 718.5L591.5 711.2L607.3 703.8L623.1 696.4L638.9 689.0L654.8 681.5L670.6 673.9L686.4 666.3L702.2 658.6L718.0 650.8L733.9 643.0L749.7 635.1L765.5 627.1L781.3 619.1L797.1 611.0L813.0 602.9L828.8 594.6L844.6 586.3L860.4 577.9L876.2 569.5L892.1 560.9L907.9 552.3L923.7 543.6L939.5 534.9"/>
<path d="M211.8 834.3L227.6 827.9L243.4 821.6L259.3 815.2L275.1 808.8L290.9 802.3L306.7 795.8L322.5 789.3L338.4 782.8L354.2 776.2L370.0 769.6L385.8 762.9L401.6 756.2L417.5 749.4L433.3 742.6L449.1 735.8L464.9 728.9L480.7 722.0L496.6 715.0L512.4 708.0L528.2 700.9L544.0 693.8L559.8 686.6L575.7 679.4L591.5 672.1L607.3 664.7L623.1 657.3L638.9 649.9L654.8 642.4L670.6 634.8L686.4 627.2L702.2 619.5L718.0 611.7L733.9 603.9L749.7 596.0L765.5 588.0L781.3 580.0L797.1 571.9L813.0 563.8L828.8 555.5L844.6 547.2L860.4 538.8L876.2 530.4L892.1 521.8L907.9 513.2L923.7 504.5L939.5 495.8"/>
<path d="M211.8 795.4L227.6 789.1L243.4 782.7L259.3 776.3L275.1 769.9L290.9 763.5L306.7 757.0L322.5 750.5L338.4 743.9L354.2 737.3L370.0 730.7L385.8 724.0L401.6 717.3L417.5 710.6L433.3 703.8L449.1 696.9L464.9 690.1L480.7 683.1L496.6 676.1L512.4 669.1L528.2 662.0L544.0 654.9L559.8 647.7L575.7 640.5L591.5 633.2L607.3 625.9L623.1 618.5L638.9 611.0L654.8 603.5L670.6 595.9L686.4 588.3L702.2 580.6L718.0 572.8L733.9 565.0L749.7 557.1L765.5 549.2L781.3 541.1L797.1 533.1L813.0 524.9L828.8 516.7L844.6 508.3L860.4 500.0L876.2 491.5L892.1 483.0L907.9 474.4L923.7 465.7L939.5 456.9"/>
</g>
<g stroke="#000" stroke-width="3.0" fill="none">
<path d="M918 374.8L211.8 374.8L211.8 1030.6L918 1030.6" stroke-linejoin="miter"/>
</g>
<g stroke="#000" stroke-width="2.8" fill="none" stroke-linecap="round">
<path d="M251.3 1030.6V1024.5M251.3 374.8V380.9M290.8 1030.6V1018.3M290.8 374.8V387.1M330.3 1030.6V1024.5M330.3 374.8V380.9M369.8 1030.6V1018.3M369.8 374.8V387.1M409.3 1030.6V1024.5M409.3 374.8V380.9M448.8 1030.6V1018.3M448.8 374.8V387.1M488.3 1030.6V1024.5M488.3 374.8V380.9M527.8 1030.6V1018.3M527.8 374.8V387.1M567.3 1030.6V1024.5M567.3 374.8V380.9M606.8 1030.6V1018.3M606.8 374.8V387.1M646.3 1030.6V1024.5M646.3 374.8V380.9M685.8 1030.6V1018.3M685.8 374.8V387.1M725.3 1030.6V1024.5M725.3 374.8V380.9M764.8 1030.6V1018.3M764.8 374.8V387.1M804.3 1030.6V1024.5M804.3 374.8V380.9M843.8 1030.6V1018.3M843.8 374.8V387.1M883.3 1030.6V1024.5M883.3 374.8V380.9M922.8 1030.6V1018.3M922.8 374.8V387.1M211.8 1015.0H217.9M211.8 999.4H217.9M211.8 983.8H217.9M211.8 968.1H217.9M211.8 952.5H224.1M211.8 936.9H217.9M211.8 921.3H217.9M211.8 905.7H217.9M211.8 890.1H217.9M211.8 874.5H224.1M211.8 858.8H217.9M211.8 843.2H217.9M211.8 827.6H217.9M211.8 812.0H217.9M211.8 796.4H224.1M211.8 780.8H217.9M211.8 765.2H217.9M211.8 749.5H217.9M211.8 733.9H217.9M211.8 718.3H224.1M211.8 702.7H217.9M211.8 687.1H217.9M211.8 671.5H217.9M211.8 655.9H217.9M211.8 640.2H224.1M211.8 624.6H217.9M211.8 609.0H217.9M211.8 593.4H217.9M211.8 577.8H217.9M211.8 562.2H224.1M211.8 546.6H217.9M211.8 531.0H217.9M211.8 515.3H217.9M211.8 499.7H217.9M211.8 484.1H224.1M211.8 468.5H217.9M211.8 452.9H217.9M211.8 437.3H217.9M211.8 421.7H217.9M211.8 406.0H224.1M211.8 390.4H217.9"/>
</g>
<g font-size="39.3">
<text transform="translate(211.8 1075) scale(1 1.041)" text-anchor="middle">0</text>
<text transform="translate(290.8 1075) scale(1 1.041)" text-anchor="middle">10</text>
<text transform="translate(369.8 1075) scale(1 1.041)" text-anchor="middle">20</text>
<text transform="translate(448.8 1075) scale(1 1.041)" text-anchor="middle">30</text>
<text transform="translate(527.8 1075) scale(1 1.041)" text-anchor="middle">40</text>
<text transform="translate(606.8 1075) scale(1 1.041)" text-anchor="middle">50</text>
<text transform="translate(685.8 1075) scale(1 1.041)" text-anchor="middle">60</text>
<text transform="translate(764.8 1075) scale(1 1.041)" text-anchor="middle">70</text>
<text transform="translate(843.8 1075) scale(1 1.041)" text-anchor="middle">80</text>
<text transform="translate(922.8 1075) scale(1 1.041)" text-anchor="middle">90</text>
<text transform="translate(198.6 1042.2) scale(1 1.041)" text-anchor="end">0</text>
<text transform="translate(198.6 964.1) scale(1 1.041)" text-anchor="end">10</text>
<text transform="translate(198.6 886.1) scale(1 1.041)" text-anchor="end">20</text>
<text transform="translate(198.6 808.0) scale(1 1.041)" text-anchor="end">30</text>
<text transform="translate(198.6 729.9) scale(1 1.041)" text-anchor="end">40</text>
<text transform="translate(198.6 651.8) scale(1 1.041)" text-anchor="end">50</text>
<text transform="translate(198.6 573.8) scale(1 1.041)" text-anchor="end">60</text>
<text transform="translate(198.6 495.7) scale(1 1.041)" text-anchor="end">70</text>
<text transform="translate(198.6 417.6) scale(1 1.041)" text-anchor="end">80</text>
</g>
<text transform="translate(554.3 1133.4) scale(1 1.041)" font-size="38.3">T<tspan font-size="23.7" dy="-15.2">2</tspan><tspan dy="15.2"> (K</tspan><tspan font-size="23.7" dy="-15.2">2</tspan><tspan dy="15.2">)</tspan></text>
<text transform="translate(133.6 873.9) rotate(-90) scale(1 1.041)" font-size="38.199999999999996">C/T (mJ K<tspan font-size="23.7" dy="-16.1">-2</tspan><tspan dy="16.1">mol</tspan><tspan font-size="23.7" dy="-18.9">-1</tspan><tspan dy="18.9">)</tspan></text>
<g font-size="38.2">
<rect x="259.2" y="398.9" width="13.7" height="13.7" fill="#fff" stroke="#000" stroke-width="1.3"/>
<text transform="translate(375.6 416.2) scale(1 1.041)" text-anchor="end">0T</text>
<path d="M256.1 447.0L276.1 447.0L266.1 464.0Z" fill="#FF8000"/>
<text transform="translate(375.6 463.0) scale(1 1.041)" text-anchor="end">1T</text>
<circle cx="266.1" cy="499.7" r="8.3" fill="#800080"/>
<text transform="translate(375.6 509.9) scale(1 1.041)" text-anchor="end">2T</text>
<rect x="258.4" y="538.8" width="15.4" height="15.4" fill="#FF0000"/>
<text transform="translate(375.6 556.3) scale(1 1.041)" text-anchor="end">6T</text>
<path d="M256.1 599.4L276.1 599.4L266.1 582.4Z" fill="#0000FF"/>
<text transform="translate(375.6 603.5) scale(1 1.041)" text-anchor="end">10T</text>
<path d="M256.0 640.3L266.1 630.2L276.2 640.3L266.1 650.4Z" fill="#00FF00"/>
<text transform="translate(375.6 650.6) scale(1 1.041)" text-anchor="end">14T</text>
</g>
</svg></body></html>
